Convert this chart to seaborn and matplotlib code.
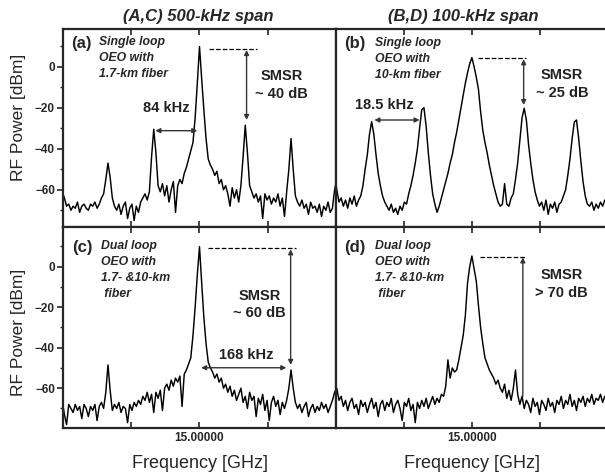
import numpy as np
import pandas as pd
import matplotlib
matplotlib.use('Agg')
import matplotlib.pyplot as plt
import seaborn as sns

# Frequency offset from the 15 GHz carrier, in kHz (sampling grid of each span)
freq_500 = np.arange(-63, 64) * 4.0
freq_100 = np.arange(-63, 64) * 0.8

# RF power [dBm]
pow_a = [-61, -64, -68, -67, -70, -68, -69, -66, -71, -68,
         -67, -69, -70, -67, -68, -66, -69, -67, -64, -62,
         -55, -47, -54, -64, -68, -70, -67, -72, -68, -66,
         -74, -69, -67, -75, -68, -71, -66, -64, -62, -65,
         -61, -44, -30.5, -42, -58, -61, -57, -63, -58, -66,
         -60, -56, -71, -58, -55, -57, -52, -49, -45, -41,
         -37, -25, -8, 9.8, -6, -21, -35, -45, -48, -50,
         -53, -51, -57, -55, -60, -58, -62, -68, -59, -64,
         -60, -66, -58, -44, -28.5, -42, -58, -61, -64, -62,
         -66, -63, -74, -62, -65, -63, -67, -64, -66, -62,
         -68, -64, -73, -61, -50, -35, -50, -63, -66, -68,
         -65, -69, -67, -72, -66, -69, -68, -71, -67, -73,
         -68, -70, -66, -71, -69, -60, -55]

pow_b = [-52, -60, -66, -64, -68, -65, -69, -64, -67, -63,
         -68, -65, -63, -58, -50, -43, -33, -26.8, -33, -43,
         -52, -58, -63, -66, -68, -70, -67, -71, -69, -72,
         -68, -70, -66, -67, -62, -58, -53, -47, -40, -30,
         -21, -20, -29, -42, -53, -62, -67, -71, -68, -64,
         -60, -56, -52, -47, -43, -37, -32, -26, -20, -14,
         -8, -3, 1.5, 4.4, 0, -5, -11, -22, -31, -37,
         -42, -48, -53, -58, -62, -66, -68, -67, -57, -67,
         -68, -64, -62, -55, -47, -36, -25, -20.3, -26, -38,
         -47, -55, -61, -65, -68, -66, -70, -65, -72, -67,
         -69, -66, -71, -67, -66, -63, -60, -53, -45, -35,
         -27, -26, -35, -46, -56, -63, -67, -68, -66, -70,
         -67, -69, -66, -68, -65, -67, -66]

pow_c = [-66, -73, -78, -68, -70, -72, -68, -71, -69, -75,
         -68, -70, -74, -69, -71, -68, -76, -69, -67, -70,
         -62, -48.5, -61, -71, -68, -70, -67, -72, -69, -70,
         -77, -68, -71, -67, -69, -66, -68, -64, -66, -62,
         -67, -63, -72, -62, -65, -61, -71, -60, -58, -61,
         -56, -59, -55, -57, -54, -69, -53, -51, -48, -45,
         -34, -20, -4, 9.9, -8, -25, -38, -47, -50, -52,
         -55, -53, -57, -55, -60, -58, -62, -59, -64, -61,
         -66, -63, -60, -67, -64, -70, -62, -66, -64, -74,
         -65, -68, -63, -71, -66, -76, -67, -64, -69, -66,
         -73, -67, -70, -66, -60, -51, -60, -67, -70, -68,
         -72, -69, -67, -74, -70, -68, -72, -69, -71, -67,
         -70, -68, -72, -69, -66, -62, -60]

pow_d = [-62, -60, -66, -64, -69, -66, -71, -67, -65, -70,
         -68, -73, -66, -69, -67, -72, -68, -65, -70, -67,
         -74, -68, -66, -71, -67, -69, -65, -72, -68, -66,
         -70, -76, -67, -69, -65, -71, -68, -77, -67, -70,
         -66, -69, -65, -70, -67, -64, -68, -65, -67, -63,
         -64, -59, -46, -55, -50, -52, -51, -46, -40, -34,
         -24, -8, 0, 5.3, -1, -7, -19, -30, -38, -45,
         -48, -51, -53, -55, -58, -56, -60, -62, -58, -65,
         -61, -66, -60, -51, -63, -68, -64, -70, -66, -68,
         -72, -65, -69, -67, -73, -66, -68, -71, -65, -69,
         -67, -72, -66, -68, -64, -70, -66, -68, -63, -69,
         -66, -71, -65, -67, -64, -69, -65, -67, -63, -68,
         -65, -66, -63, -67, -64, -66, -65]

panel_letters = ['(a)', '(b)', '(c)', '(d)']
panel_notes = ['Single loop\nOEO with\n1.7-km fiber',
               'Single loop\nOEO with\n10-km fiber',
               'Dual loop\nOEO with\n1.7- &10-km\n fiber',
               'Dual loop\nOEO with\n1.7- &10-km\n fiber']
smsr_labels = ['SMSR\n~ 40 dB', 'SMSR\n~ 25 dB', 'SMSR\n~ 60 dB', 'SMSR\n> 70 dB']
column_titles = ['(A,C) 500-kHz span', '(B,D) 100-kHz span']

sns.set_style('ticks')
plt.rcParams['font.family'] = ['Liberation Sans', 'DejaVu Sans']

fig = plt.figure(figsize=(6.05, 4.76), dpi=100)
W, H = 605.0, 476.0
lx, rx, pw = 63.3 / W, 335.7 / W, 272.4 / W
top_y, top_h = 1 - 226.7 / H, (226.7 - 28.7) / H
bot_y, bot_h = 1 - 428.3 / H, (428.3 - 226.7) / H
ax_a = fig.add_axes([lx, top_y, pw, top_h])
ax_b = fig.add_axes([rx, top_y, pw, top_h])
ax_c = fig.add_axes([lx, bot_y, pw, bot_h])
ax_d = fig.add_axes([rx, bot_y, pw, bot_h])
axes = [ax_a, ax_b, ax_c, ax_d]

series = [(freq_500, pow_a), (freq_100, pow_b), (freq_500, pow_c), (freq_100, pow_d)]
for ax, (f, p) in zip(axes, series):
    df = pd.DataFrame({'freq': f, 'power': p})
    sns.lineplot(data=df, x='freq', y='power', ax=ax, color='black', lw=1.05)
    ax.set_xlabel('')
    ax.set_ylabel('')
    for s in ax.spines.values():
        s.set_linewidth(1.6)
        s.set_visible(True)

for ax, wide, lim in [(ax_a, True, (-78, 18.5)), (ax_b, False, (-78, 18.5)),
                      (ax_c, True, (-79.8, 19.75)), (ax_d, False, (-79.8, 19.75))]:
    span = 250 if wide else 50
    ax.set_xlim(-span, span)
    ax.set_ylim(*lim)
    ax.set_xticks([-span, -span / 2, 0, span / 2, span])
    ax.tick_params(axis='x', direction='in', top=True, bottom=True, length=4, width=1.2,
                   labelsize=8.5, pad=3)
    if wide:
        ax.set_yticks([-60, -40, -20, 0])
        ax.set_yticks([-70, -50, -30, -10, 10], minor=True)
        ax.tick_params(axis='y', which='major', direction='out', length=4, width=1.2,
                       labelsize=8.5, pad=2)
        ax.tick_params(axis='y', which='minor', direction='out', length=2.5, width=1.0)
        for t in ax.get_yticklabels():
            t.set_fontweight('bold')
    else:
        ax.set_yticks([])
        ax.tick_params(axis='y', left=False, labelleft=False)

for ax in [ax_a, ax_b]:
    ax.set_xticklabels([])
for ax in [ax_c, ax_d]:
    ax.set_xticklabels(['', '', '15.00000', '', ''], fontweight='bold')

arrow_kw = dict(arrowstyle='<|-|>', color='#333333', lw=1.0, mutation_scale=7,
                shrinkA=0, shrinkB=0)


def arrow(ax, xy_from, xy_to, style='<|-|>'):
    kw = dict(arrow_kw)
    kw['arrowstyle'] = style
    ax.annotate('', xy=xy_to, xytext=xy_from, arrowprops=kw)


# panel letters and descriptions
letter_pos = [(-235, 11.5), (-46.8, 11.3), (-233, 9.7), (-46.8, 9.3)]
note_pos = [(-184, 14.8), (-35.4, 14.6), (-180, 13.2), (-35.4, 13.2)]
for ax, lab, lp, note, npos in zip(axes, panel_letters, letter_pos, panel_notes, note_pos):
    ax.text(lp[0], lp[1], lab, fontsize=12, fontweight='bold', va='center', ha='left')
    ax.text(npos[0], npos[1], note, fontsize=8.8, fontweight='bold', style='italic',
            va='top', ha='left', linespacing=1.45)

# (a)
ax_a.plot([18, 105], [8.6, 8.6], ls='--', color='black', lw=0.9)
arrow(ax_a, (86.4, 8.1), (86.4, -26))
ax_a.text(150, -9, smsr_labels[0], fontsize=10.5, fontweight='bold', ha='center',
          va='center', color='#222222', linespacing=1.3)
ax_a.text(-61, -20.1, '84 kHz', fontsize=10.5, fontweight='bold', ha='center',
          va='center', color='#222222')
arrow(ax_a, (-81, -31.2), (-4, -31.2))

# (b)
ax_b.plot([2.2, 20], [4.1, 4.1], ls='--', color='black', lw=0.9)
arrow(ax_b, (19, 3.6), (19, -18.7))
ax_b.text(33, -8.5, smsr_labels[1], fontsize=10.5, fontweight='bold', ha='center',
          va='center', color='#222222', linespacing=1.3)
ax_b.text(-32.1, -18.7, '18.5 kHz', fontsize=10.5, fontweight='bold', ha='center',
          va='center', color='#222222')
arrow(ax_b, (-35.8, -26), (-19.2, -26))

# (c)
ax_c.plot([14.7, 178], [9.1, 9.1], ls='--', color='black', lw=0.9)
arrow(ax_c, (167.3, 8.6), (167.3, -48.5))
ax_c.text(110, -18.5, smsr_labels[2], fontsize=10.5, fontweight='bold', ha='center',
          va='center', color='#222222', linespacing=1.3)
ax_c.text(86, -43.6, '168 kHz', fontsize=10.5, fontweight='bold', ha='center',
          va='center', color='#222222')
arrow(ax_c, (3, -49.9), (159.4, -49.9))

# (d)
ax_d.plot([2.8, 20], [4.9, 4.9], ls='--', color='black', lw=0.9)
arrow(ax_d, (18.7, -64), (18.7, 4.6), style='-|>')
ax_d.text(33, -8.6, smsr_labels[3], fontsize=10.5, fontweight='bold', ha='center',
          va='center', color='#222222', linespacing=1.3)

# column titles and shared axis labels
fig.text(198 / W, 1 - 16 / H, column_titles[0], fontsize=12, fontweight='bold',
         style='italic', ha='center', va='center')
fig.text(463 / W, 1 - 16 / H, column_titles[1], fontsize=12, fontweight='bold',
         style='italic', ha='center', va='center')
for yc in [117, 332]:
    fig.text(19 / W, 1 - yc / H, 'RF Power [dBm]', fontsize=12.5, rotation=90,
             ha='center', va='center')
for xc in [200, 472]:
    fig.text(xc / W, 1 - 463 / H, 'Frequency [GHz]', fontsize=13, ha='center', va='center')

fig.savefig('out.png', dpi=100)
